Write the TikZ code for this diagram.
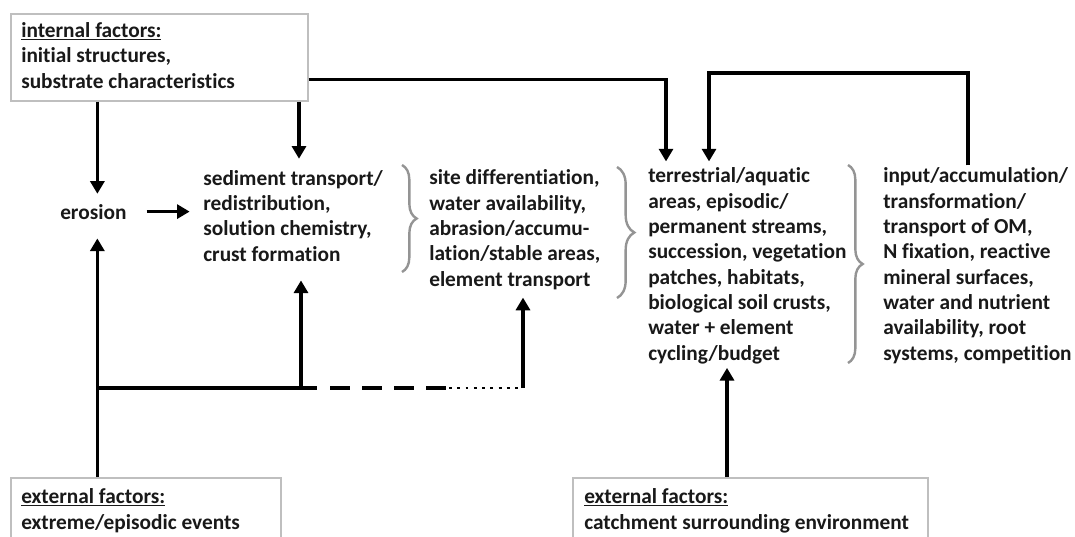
\documentclass[tikz,border=0pt]{standalone}
\usepackage{fontspec}
\setmainfont[Ligatures=NoCommon]{Carlito}
\usetikzlibrary{arrows.meta,calc,decorations.pathreplacing}
\begin{document}
\begin{tikzpicture}[x=0.75pt,y=-0.75pt,
  txt/.style={font=\fontsize{16}{19}\selectfont\bfseries, align=left, inner sep=0pt, anchor=base west, text=black!90},
  box/.style={draw=black!25, line width=1.2pt, anchor=north west, inner sep=0pt},
  arr/.style={line width=2.6pt, -{Triangle[length=9.5pt,width=10.5pt]}},
  ln/.style={line width=2.6pt},
  brc/.style={draw=black!42, line width=1.8pt, decorate, decoration={brace, amplitude=#1}}]
\clip (0,0) rectangle (1075,536);
\fill[white] (0,0) rectangle (1075,536);
% boxes (text anchored at the baseline of its last line)
\node[box, minimum width=222.75pt, minimum height=65.25pt] (intbox) at (10,13) {};
\node[txt] (inttxt) at (21,88) {\underline{internal factors:}\\initial structures,\\substrate characteristics};
\node[box, minimum width=202.5pt, minimum height=75pt] (ext1box) at (10,477) {};
\node[txt] (ext1txt) at (21,529) {\underline{external factors:}\\extreme/episodic events};
\node[box, minimum width=266.25pt, minimum height=75pt] (ext2box) at (572,477) {};
\node[txt] (ext2txt) at (584,529) {\underline{external factors:}\\catchment surrounding environment};
% text blocks
\node[txt] (ero) at (60,219) {erosion};
\node[txt] (sed) at (203,261) {sediment transport/\\redistribution,\\solution chemistry,\\crust formation};
\node[txt] (site) at (429,286) {site differentiation,\\water availability,\\abrasion/accumu-\\lation/stable areas,\\element transport};
\node[txt] (terr) at (648,360) {terrestrial/aquatic\\areas, episodic/\\permanent streams,\\succession, vegetation\\patches, habitats,\\biological soil crusts,\\water + element\\cycling/budget};
\node[txt] (inp) at (883,360) {input/accumulation/\\transformation/\\transport of OM,\\N fixation, reactive\\mineral surfaces,\\water and nutrient\\availability, root\\systems, competition};
% braces
\draw[brc=11pt] (402,165) -- (402,272);
\draw[brc=13pt] (617,167) -- (617,298);
\draw[brc=11pt] (848,165) -- (848,363);
% coordinates
\coordinate (t1) at ([shift={(18,-6)}]terr.north west);
\coordinate (t2) at ([shift={(61,-6)}]terr.north west);
\coordinate (i1) at ([shift={(85,-2)}]inp.north west);
\coordinate (fbk) at (0,73);
\coordinate (e1) at ([shift={(4,-10)}]ero.north);
\coordinate (s1) at ([shift={(96,-11)}]sed.north west);
\coordinate (e2) at ([shift={(4,19)}]ero.south);
\coordinate (jy) at (0,388);
\coordinate (s2) at ([shift={(98,19)}]sed.south west);
\coordinate (d2) at ([shift={(94,8)}]site.south west);
\coordinate (t3) at ([shift={(79,4)}]terr.south west);
% connectors
\draw[arr] ($(intbox.south east)!0.25!(intbox.north east)$) -| (t1);
\draw[arr] (i1) -- (i1 |- fbk) -| (t2);
\draw[arr] (e1 |- intbox.south) -- (e1);
\draw[arr] (s1 |- intbox.south) -- (s1);
\draw[arr, shorten <=15pt, shorten >=10pt] (ero.east) -- (ero.east -| sed.west);
\draw[arr] (e2 |- ext1box.north) -- (e2);
\draw[ln] (e2 |- jy) -- ($(s2 |- jy)+(16,0)$);
\draw[arr] (s2 |- jy) -- (s2);
\draw[ln, dash pattern=on 15pt off 9pt] ($(s2 |- jy)+(29,0)$) -- ($(d2 |- jy)+(-76,0)$);
\draw[line width=2.2pt, dash pattern=on 2.2pt off 4pt] ($(d2 |- jy)+(-74,0)$) -- (d2 |- jy);
\draw[arr] (d2 |- jy) -- (d2);
\draw[arr] (t3 |- ext2box.north) -- (t3);
\end{tikzpicture}
\end{document}
